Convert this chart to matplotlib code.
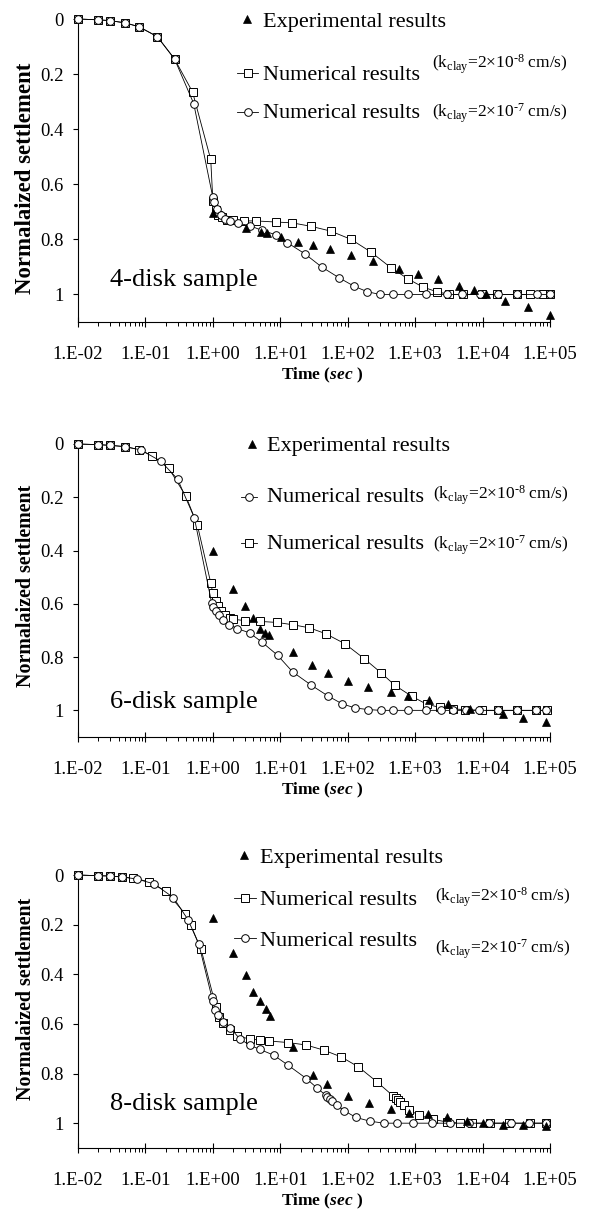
import matplotlib
matplotlib.use('Agg')
import matplotlib.pyplot as plt
import matplotlib.lines as mlines
from matplotlib.ticker import FixedLocator, FixedFormatter, LogLocator, NullFormatter

plt.rcParams['font.family'] = ['Liberation Serif', 'DejaVu Serif']
plt.rcParams['mathtext.fontset'] = 'custom'
plt.rcParams['mathtext.rm'] = 'Liberation Serif'
plt.rcParams['mathtext.it'] = 'Liberation Serif:italic'
plt.rcParams['mathtext.bf'] = 'Liberation Serif:bold'
try:
    plt.rcParams['mathtext.bfit'] = 'Liberation Serif:italic:bold'
    XLABEL = r"Time ($\mathbfit{sec}$ )"
except KeyError:
    XLABEL = "Time (sec )"

# ---------------- data ----------------
# Panel 1: 4-disk sample
p1_sq_t = [0.01, 0.02, 0.03, 0.05, 0.08, 0.15, 0.27, 0.5, 0.93, 1.0, 1.1, 1.2, 1.35, 1.6, 2.0, 2.9, 4.3,
           8.5, 15, 29, 56, 112, 221, 438, 790, 1300, 2090, 3200, 5200, 9700, 16200, 32000, 50500, 79600, 100000]
p1_sq_s = [0, 0.003, 0.006, 0.014, 0.028, 0.064, 0.145, 0.265, 0.51, 0.66, 0.695, 0.71, 0.72, 0.728, 0.731, 0.733,
           0.733, 0.737, 0.74, 0.753, 0.77, 0.80, 0.846, 0.903, 0.944, 0.973, 0.99, 1.0, 1.0, 1.0, 1.0, 1.0, 1.0, 1.0, 1.0]
p1_ci_t = [0.01, 0.02, 0.03, 0.05, 0.08, 0.15, 0.27, 0.52, 1.0, 1.05, 1.15, 1.3, 1.5, 1.8, 2.4, 3.5, 5.3, 8.5,
           12.7, 23, 41, 75, 124, 195, 300, 465, 790, 1430, 2940, 4900, 9150, 17100, 32700, 64100, 100000]
p1_ci_s = [0, 0.003, 0.006, 0.014, 0.028, 0.064, 0.145, 0.307, 0.648, 0.665, 0.688, 0.71, 0.725, 0.735, 0.742, 0.75,
           0.767, 0.783, 0.812, 0.852, 0.90, 0.94, 0.97, 0.99, 1.0, 1.0, 1.0, 1.0, 1.0, 1.0, 1.0, 1.0, 1.0, 1.0, 1.0]
p1_tr_t = [1.0, 3.1, 5.2, 6.4, 10.2, 18.5, 30.5, 55, 111, 234, 575, 1110, 2200, 4500, 7500, 11200, 21400, 46500, 100000]
p1_tr_s = [0.703, 0.758, 0.774, 0.777, 0.79, 0.811, 0.822, 0.836, 0.855, 0.879, 0.909, 0.925, 0.945, 0.971, 0.985,
           0.998, 1.022, 1.046, 1.076]

# Panel 2: 6-disk sample
p2_sq_t = [0.01, 0.02, 0.03, 0.05, 0.08, 0.126, 0.22, 0.40, 0.59, 0.93, 1.0, 1.1, 1.2, 1.3, 1.5, 1.8, 2.0, 3.0, 5.0,
           9.0, 15.7, 26.9, 47, 91, 176, 309, 500, 890, 1480, 2340, 3690, 5500, 9700, 17100, 32700, 63000, 89000]
p2_sq_s = [0, 0.0025, 0.005, 0.01, 0.021, 0.044, 0.089, 0.197, 0.305, 0.521, 0.561, 0.589, 0.609, 0.627, 0.643, 0.655,
           0.658, 0.663, 0.666, 0.67, 0.679, 0.69, 0.712, 0.75, 0.806, 0.858, 0.906, 0.947, 0.977, 0.989, 0.995, 0.997,
           1.0, 1.0, 1.0, 1.0, 1.0]
p2_ci_t = [0.01, 0.02, 0.03, 0.05, 0.085, 0.17, 0.30, 0.53, 0.96, 1.0, 1.1, 1.23, 1.43, 1.74, 2.3, 3.5, 5.3, 9.1,
           15.3, 29, 51, 82, 128, 201, 308, 465, 776, 1440, 2380, 3650, 5720, 8970, 17100, 32500, 61700, 87500]
p2_ci_s = [0, 0.0025, 0.005, 0.01, 0.022, 0.065, 0.132, 0.276, 0.597, 0.612, 0.627, 0.643, 0.662, 0.678, 0.693,
           0.709, 0.743, 0.793, 0.856, 0.906, 0.946, 0.975, 0.991, 0.997, 1.0, 1.0, 1.0, 1.0, 1.0, 1.0, 1.0, 1.0,
           1.0, 1.0, 1.0, 1.0]
p2_tr_t = [1.0, 2.0, 3.0, 4.0, 5.0, 5.9, 6.9, 15.2, 29.5, 50.5, 100, 202, 445, 785, 1620, 3100, 6500, 20200, 39700, 87000]
p2_tr_s = [0.401, 0.546, 0.608, 0.655, 0.693, 0.708, 0.718, 0.781, 0.828, 0.861, 0.889, 0.913, 0.931, 0.947, 0.96,
           0.977, 0.994, 1.015, 1.027, 1.043]

# Panel 3: 8-disk sample
p3_sq_t = [0.01, 0.02, 0.03, 0.045, 0.066, 0.113, 0.2, 0.39, 0.47, 0.67, 1.11, 1.23, 1.43, 1.8, 2.3, 3.5, 5.0, 6.9,
           13, 24.3, 44.5, 80, 144, 270, 475, 520, 560, 600, 690, 820, 1150, 1870, 2930, 4620, 6900, 12800, 25000,
           50500, 86000]
p3_sq_s = [0, 0.003, 0.004, 0.008, 0.013, 0.027, 0.065, 0.157, 0.202, 0.30, 0.531, 0.571, 0.595, 0.625, 0.648,
           0.661, 0.665, 0.669, 0.675, 0.685, 0.706, 0.733, 0.773, 0.833, 0.891, 0.90, 0.907, 0.915, 0.927, 0.948,
           0.968, 0.985, 0.995, 1.0, 1.0, 1.0, 1.0, 1.0, 1.0]
p3_ci_t = [0.01, 0.02, 0.03, 0.045, 0.074, 0.135, 0.26, 0.43, 0.62, 0.96, 1.0, 1.07, 1.2, 1.4, 1.8, 2.5, 3.5, 5.0,
           8.0, 13.0, 24.3, 35, 47, 50, 54, 58, 68.5, 89, 133, 214, 345, 532, 940, 1760, 3290, 6350, 12600, 26100,
           48900, 86300]
p3_ci_s = [0, 0.003, 0.004, 0.008, 0.016, 0.036, 0.091, 0.181, 0.279, 0.49, 0.508, 0.542, 0.565, 0.591, 0.615,
           0.66, 0.685, 0.703, 0.726, 0.766, 0.82, 0.858, 0.887, 0.895, 0.902, 0.91, 0.927, 0.95, 0.977, 0.992,
           1.0, 1.0, 1.0, 1.0, 1.0, 1.0, 1.0, 1.0, 1.0, 1.0]
p3_tr_t = [1.0, 2.0, 3.05, 4.0, 5.0, 6.1, 7.0, 15.2, 30.2, 48.7, 100, 207, 434, 811, 1570, 3000, 5930, 10000,
           19900, 39800, 86300]
p3_tr_s = [0.175, 0.313, 0.403, 0.47, 0.508, 0.538, 0.569, 0.694, 0.804, 0.843, 0.891, 0.918, 0.944, 0.957, 0.961,
           0.975, 0.991, 1.0, 1.008, 1.008, 1.011]

panel_names = ["4-disk sample", "6-disk sample", "8-disk sample"]
legend_exp = "Experimental results"
legend_num = "Numerical results"
kclay_8 = r"(k$_{\mathrm{clay}}$=2×10$^{\text{-8}}$ cm/s)"
kclay_7 = r"(k$_{\mathrm{clay}}$=2×10$^{\text{-7}}$ cm/s)"
y_ticks = [0, 0.2, 0.4, 0.6, 0.8, 1.0]
y_ticklabels = ["0", "0.2", "0.4", "0.6", "0.8", "1"]
x_exponents = [-2, -1, 0, 1, 2, 3, 4, 5]
x_ticklabels = ["1.E%+03d" % e for e in x_exponents]

# ---------------- layout (pixels of a 590x1215 canvas) ----------------
W, H = 590, 1215
LEFT, RIGHT = 78, 550
panels = [
    dict(T=19, B=322, sq=(p1_sq_t, p1_sq_s), ci=(p1_ci_t, p1_ci_s), tr=(p1_tr_t, p1_tr_s),
         name_base=286, ylab_fs=16.4, ylab_y=178,
         rows=[(19, 27), (73, 80), (112, 118)], tri_x=247, key_x=(237, 258), txt_x=263, k_x=432,
         row_kind=['s', 'o'], row_k=[kclay_8, kclay_7], k_base=[68, 117]),
    dict(T=444, B=737, sq=(p2_sq_t, p2_sq_s), ci=(p2_ci_t, p2_ci_s), tr=(p2_tr_t, p2_tr_s),
         name_base=708, ylab_fs=14.4, ylab_y=586,
         rows=[(444, 451), (497, 502), (543, 549)], tri_x=252, key_x=(241, 257), txt_x=267, k_x=433,
         row_kind=['o', 's'], row_k=[kclay_8, kclay_7], k_base=[499, 549]),
    dict(T=875, B=1148, sq=(p3_sq_t, p3_sq_s), ci=(p3_ci_t, p3_ci_s), tr=(p3_tr_t, p3_tr_s),
         name_base=1110, ylab_fs=14.4, ylab_y=999,
         rows=[(855, 863), (898, 905), (938, 946)], tri_x=244, key_x=(234, 256), txt_x=260, k_x=435,
         row_kind=['s', 'o'], row_k=[kclay_8, kclay_7], k_base=[901, 953]),
]

fig = plt.figure(figsize=(W / 100, H / 100), dpi=100)

sq_style = dict(color='black', lw=0.6, marker='s', ms=5.4, mfc='white', mec='black', mew=0.7)
ci_style = dict(color='black', lw=0.6, marker='o', ms=5.5, mfc='white', mec='black', mew=0.7)
tr_style = dict(linestyle='none', marker='^', ms=6.2, mfc='black', mec='black', mew=0.5)

for P, name in zip(panels, panel_names):
    T, B = P['T'], P['B']
    ax = fig.add_axes([LEFT / W, 1 - B / H, (RIGHT - LEFT) / W, (B - T) / H])

    def axc(px, py, T=T, B=B):
        return (px - LEFT) / (RIGHT - LEFT), (B - py) / (B - T)

    ax.plot(*P['sq'], clip_on=False, zorder=3, **sq_style)
    ax.plot(*P['ci'], clip_on=False, zorder=4, **ci_style)
    ax.plot(*P['tr'], clip_on=False, zorder=5, **tr_style)

    ax.set_xscale('log')
    ax.set_xlim(1e-2, 1e5)
    ax.set_ylim(1.1, 0)
    for s in ['top', 'right']:
        ax.spines[s].set_visible(False)
    for s in ['left', 'bottom']:
        ax.spines[s].set_linewidth(0.8)

    ax.xaxis.set_major_locator(FixedLocator([10.0 ** e for e in x_exponents]))
    ax.xaxis.set_major_formatter(FixedFormatter(x_ticklabels))
    ax.xaxis.set_minor_locator(LogLocator(base=10, subs=range(2, 10), numticks=20))
    ax.xaxis.set_minor_formatter(NullFormatter())
    ax.yaxis.set_major_locator(FixedLocator(y_ticks))
    ax.yaxis.set_major_formatter(FixedFormatter(y_ticklabels))
    ax.tick_params(axis='x', which='major', direction='inout', length=7.5, width=0.8, pad=13.5, labelsize=13.4)
    ax.tick_params(axis='x', which='minor', direction='out', length=2.6, width=0.7)
    ax.tick_params(axis='y', which='major', direction='out', length=3.6, width=0.8, pad=7, labelsize=13.4)

    ax.set_xlabel(XLABEL, fontsize=12.5, fontweight='bold')
    ax.xaxis.set_label_coords((322 - LEFT) / (RIGHT - LEFT), -44 / (B - T))
    ax.set_ylabel("Normalaized settlement", fontsize=P['ylab_fs'], fontweight='bold')
    ax.yaxis.set_label_coords((36 - LEFT) / (RIGHT - LEFT), (B - P['ylab_y']) / (B - T))

    ax.text(*axc(110, P['name_base']), name, transform=ax.transAxes, fontsize=19,
            ha='left', va='baseline')

    # legend (manual, to mimic the original layout)
    rows = P['rows']
    mx, my = axc(P['tri_x'], rows[0][0])
    ax.add_line(mlines.Line2D([mx], [my], transform=ax.transAxes, clip_on=False, **tr_style))
    ax.text(*axc(P['txt_x'], rows[0][1]), legend_exp, transform=ax.transAxes, fontsize=16,
            ha='left', va='baseline')
    for (cy, by), kind, ktxt, kb in zip(rows[1:], P['row_kind'], P['row_k'], P['k_base']):
        x1, yy = axc(P['key_x'][0], cy)
        x2, _ = axc(P['key_x'][1], cy)
        st = sq_style if kind == 's' else ci_style
        ax.add_line(mlines.Line2D([x1, x2], [yy, yy], transform=ax.transAxes, clip_on=False,
                                  color='black', lw=0.6))
        ax.add_line(mlines.Line2D([(x1 + x2) / 2], [yy], transform=ax.transAxes, clip_on=False,
                                  linestyle='none', marker=st['marker'], ms=st['ms'], mfc='white',
                                  mec='black', mew=0.7))
        ax.text(*axc(P['txt_x'], by), legend_num, transform=ax.transAxes, fontsize=16,
                ha='left', va='baseline')
        ax.text(*axc(P['k_x'], kb), ktxt, transform=ax.transAxes, fontsize=12.5,
                ha='left', va='baseline')

fig.savefig('out.png', dpi=100)
